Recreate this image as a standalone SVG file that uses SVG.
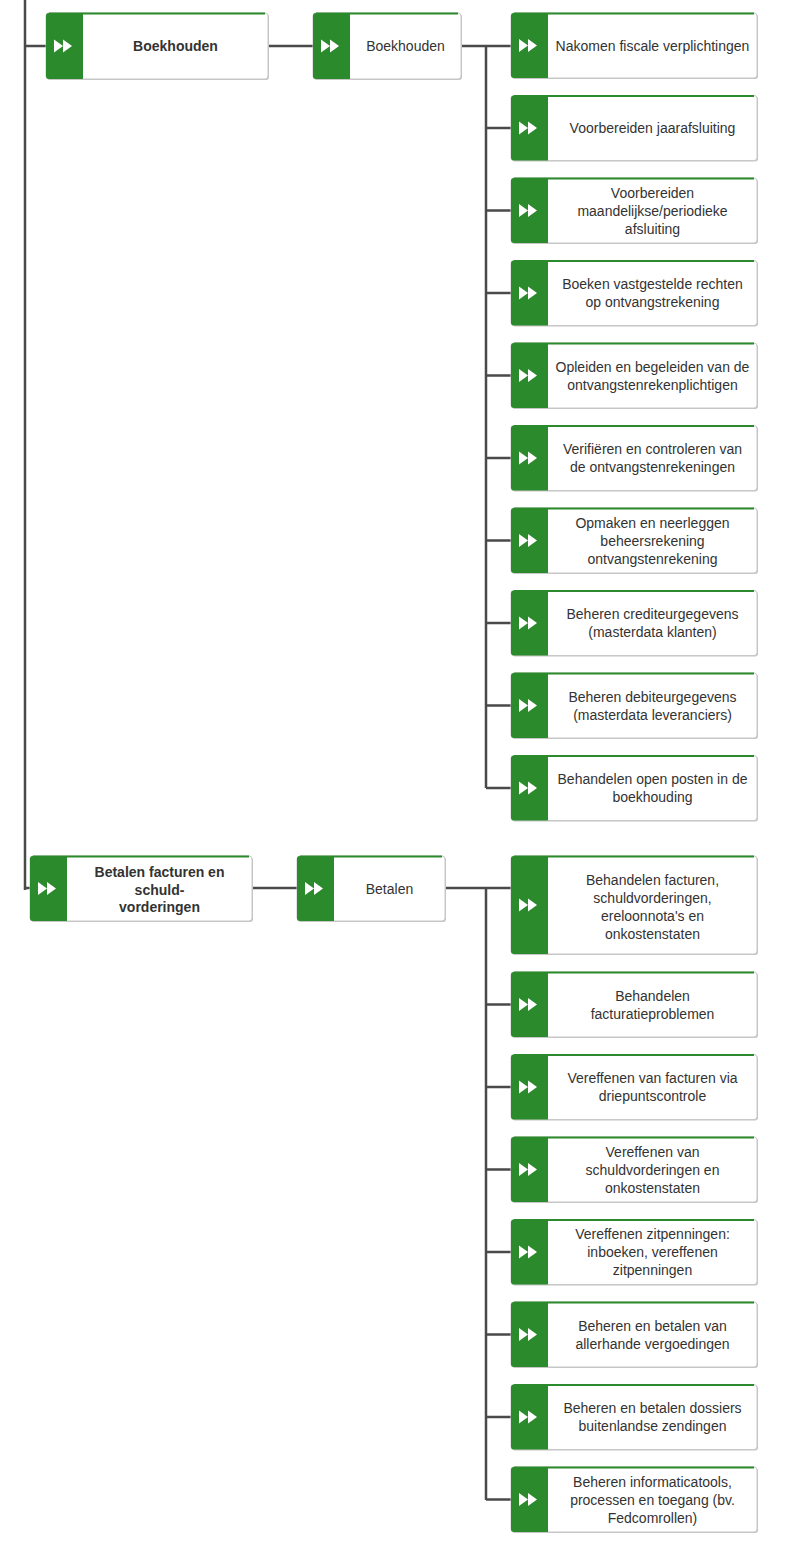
<svg xmlns="http://www.w3.org/2000/svg" xmlns:xlink="http://www.w3.org/1999/xlink" width="798" height="1558" viewBox="0 0 798 1558">
<style>
.shadow{fill:#c4c4c4}
.box{fill:#ffffff;stroke:#c8c8c8;stroke-width:1}
.bar{fill:#2b8a2b}
.top{stroke:#2b8a2b;stroke-width:2}
.ico{fill:#ffffff}
.t{font-family:"Liberation Sans",Arial,sans-serif;font-size:14px;fill:#333333;text-anchor:middle}
.b{font-weight:bold}
.conn{fill:none;stroke:#4a4a4a;stroke-width:2.5}
</style>
<defs>
<g id="ico"><polygon class="ico" points="8,-6.5 17,0 8,6.5"/><polygon class="ico" points="17,-6.5 26,0 17,6.5"/></g>
</defs>
<rect width="798" height="1558" fill="#ffffff"/>
<g id="connectors" class="conn">
<path d="M25 0V890M25 888H30M25 46H46M268 46H313M461 46H511M486 46V788"/>
<path d="M486 128H511M486 210.5H511M486 293H511M486 375.5H511M486 458H511M486 540.5H511M486 623H511M486 705.5H511M486 788H511"/>
<path d="M252 888H297M445 888H511M486 888V1500"/>
<path d="M486 1004.5H511M486 1087H511M486 1169.5H511M486 1252H511M486 1334.5H511M486 1417H511M486 1499.5H511"/>
</g>

<g id="n-l1-boekhouden" transform="translate(46,13)">
<rect class="shadow" x="1" y="1" width="222" height="66" rx="3"/><rect class="box" width="222" height="66" rx="3"/>
<path class="bar" d="M3 0H37V66H3Q0 66 0 63V3Q0 0 3 0Z"/><line class="top" x1="3" y1="0.5" x2="219" y2="0.5"/>
<use href="#ico" xlink:href="#ico" y="33"/>
<text class="t b" x="129.5" y="38">Boekhouden</text>
</g>
<g id="n-l2-boekhouden" transform="translate(313,13)">
<rect class="shadow" x="1" y="1" width="148" height="66" rx="3"/><rect class="box" width="148" height="66" rx="3"/>
<path class="bar" d="M3 0H37V66H3Q0 66 0 63V3Q0 0 3 0Z"/><line class="top" x1="3" y1="0.5" x2="145" y2="0.5"/>
<use href="#ico" xlink:href="#ico" y="33"/>
<text class="t" x="92.5" y="38">Boekhouden</text>
</g>

<g id="n-b1" transform="translate(511,13)">
<rect class="shadow" x="1" y="1" width="246" height="65" rx="3"/><rect class="box" width="246" height="65" rx="3"/>
<path class="bar" d="M3 0H37V65H3Q0 65 0 62V3Q0 0 3 0Z"/><line class="top" x1="3" y1="0.5" x2="243" y2="0.5"/>
<use href="#ico" xlink:href="#ico" y="32.5"/>
<text class="t" x="141.5" y="37.5">Nakomen fiscale verplichtingen</text>
</g>
<g id="n-b2" transform="translate(511,95.5)">
<rect class="shadow" x="1" y="1" width="246" height="65" rx="3"/><rect class="box" width="246" height="65" rx="3"/>
<path class="bar" d="M3 0H37V65H3Q0 65 0 62V3Q0 0 3 0Z"/><line class="top" x1="3" y1="0.5" x2="243" y2="0.5"/>
<use href="#ico" xlink:href="#ico" y="32.5"/>
<text class="t" x="141.5" y="37.5">Voorbereiden jaarafsluiting</text>
</g>
<g id="n-b3" transform="translate(511,178)">
<rect class="shadow" x="1" y="1" width="246" height="65" rx="3"/><rect class="box" width="246" height="65" rx="3"/>
<path class="bar" d="M3 0H37V65H3Q0 65 0 62V3Q0 0 3 0Z"/><line class="top" x1="3" y1="0.5" x2="243" y2="0.5"/>
<use href="#ico" xlink:href="#ico" y="32.5"/>
<text class="t" x="141.5" y="19.5">Voorbereiden</text>
<text class="t" x="141.5" y="37.5">maandelijkse/periodieke</text>
<text class="t" x="141.5" y="55.5">afsluiting</text>
</g>
<g id="n-b4" transform="translate(511,260.5)">
<rect class="shadow" x="1" y="1" width="246" height="65" rx="3"/><rect class="box" width="246" height="65" rx="3"/>
<path class="bar" d="M3 0H37V65H3Q0 65 0 62V3Q0 0 3 0Z"/><line class="top" x1="3" y1="0.5" x2="243" y2="0.5"/>
<use href="#ico" xlink:href="#ico" y="32.5"/>
<text class="t" x="141.5" y="28.5">Boeken vastgestelde rechten</text>
<text class="t" x="141.5" y="46.5">op ontvangstrekening</text>
</g>
<g id="n-b5" transform="translate(511,343)">
<rect class="shadow" x="1" y="1" width="246" height="65" rx="3"/><rect class="box" width="246" height="65" rx="3"/>
<path class="bar" d="M3 0H37V65H3Q0 65 0 62V3Q0 0 3 0Z"/><line class="top" x1="3" y1="0.5" x2="243" y2="0.5"/>
<use href="#ico" xlink:href="#ico" y="32.5"/>
<text class="t" x="141.5" y="28.5">Opleiden en begeleiden van de</text>
<text class="t" x="141.5" y="46.5">ontvangstenrekenplichtigen</text>
</g>
<g id="n-b6" transform="translate(511,425.5)">
<rect class="shadow" x="1" y="1" width="246" height="65" rx="3"/><rect class="box" width="246" height="65" rx="3"/>
<path class="bar" d="M3 0H37V65H3Q0 65 0 62V3Q0 0 3 0Z"/><line class="top" x1="3" y1="0.5" x2="243" y2="0.5"/>
<use href="#ico" xlink:href="#ico" y="32.5"/>
<text class="t" x="141.5" y="28.5">Verifiëren en controleren van</text>
<text class="t" x="141.5" y="46.5">de ontvangstenrekeningen</text>
</g>
<g id="n-b7" transform="translate(511,508)">
<rect class="shadow" x="1" y="1" width="246" height="65" rx="3"/><rect class="box" width="246" height="65" rx="3"/>
<path class="bar" d="M3 0H37V65H3Q0 65 0 62V3Q0 0 3 0Z"/><line class="top" x1="3" y1="0.5" x2="243" y2="0.5"/>
<use href="#ico" xlink:href="#ico" y="32.5"/>
<text class="t" x="141.5" y="19.5">Opmaken en neerleggen</text>
<text class="t" x="141.5" y="37.5">beheersrekening</text>
<text class="t" x="141.5" y="55.5">ontvangstenrekening</text>
</g>
<g id="n-b8" transform="translate(511,590.5)">
<rect class="shadow" x="1" y="1" width="246" height="65" rx="3"/><rect class="box" width="246" height="65" rx="3"/>
<path class="bar" d="M3 0H37V65H3Q0 65 0 62V3Q0 0 3 0Z"/><line class="top" x1="3" y1="0.5" x2="243" y2="0.5"/>
<use href="#ico" xlink:href="#ico" y="32.5"/>
<text class="t" x="141.5" y="28.5">Beheren crediteurgegevens</text>
<text class="t" x="141.5" y="46.5">(masterdata klanten)</text>
</g>
<g id="n-b9" transform="translate(511,673)">
<rect class="shadow" x="1" y="1" width="246" height="65" rx="3"/><rect class="box" width="246" height="65" rx="3"/>
<path class="bar" d="M3 0H37V65H3Q0 65 0 62V3Q0 0 3 0Z"/><line class="top" x1="3" y1="0.5" x2="243" y2="0.5"/>
<use href="#ico" xlink:href="#ico" y="32.5"/>
<text class="t" x="141.5" y="28.5">Beheren debiteurgegevens</text>
<text class="t" x="141.5" y="46.5">(masterdata leveranciers)</text>
</g>
<g id="n-b10" transform="translate(511,755.5)">
<rect class="shadow" x="1" y="1" width="246" height="65" rx="3"/><rect class="box" width="246" height="65" rx="3"/>
<path class="bar" d="M3 0H37V65H3Q0 65 0 62V3Q0 0 3 0Z"/><line class="top" x1="3" y1="0.5" x2="243" y2="0.5"/>
<use href="#ico" xlink:href="#ico" y="32.5"/>
<text class="t" x="141.5" y="28.5">Behandelen open posten in de</text>
<text class="t" x="141.5" y="46.5">boekhouding</text>
</g>

<g id="n-l1-betalen" transform="translate(30,856)">
<rect class="shadow" x="1" y="1" width="222" height="65" rx="3"/><rect class="box" width="222" height="65" rx="3"/>
<path class="bar" d="M3 0H37V65H3Q0 65 0 62V3Q0 0 3 0Z"/><line class="top" x1="3" y1="0.5" x2="219" y2="0.5"/>
<use href="#ico" xlink:href="#ico" y="32.5"/>
<text class="t b" x="129.5" y="20.5">Betalen facturen en</text>
<text class="t b" x="129.5" y="38.5">schuld-</text>
<text class="t b" x="129.5" y="55.5">vorderingen</text>
</g>
<g id="n-l2-betalen" transform="translate(297,856)">
<rect class="shadow" x="1" y="1" width="148" height="65" rx="3"/><rect class="box" width="148" height="65" rx="3"/>
<path class="bar" d="M3 0H37V65H3Q0 65 0 62V3Q0 0 3 0Z"/><line class="top" x1="3" y1="0.5" x2="145" y2="0.5"/>
<use href="#ico" xlink:href="#ico" y="32.5"/>
<text class="t" x="92.5" y="37.5">Betalen</text>
</g>

<g id="n-p1" transform="translate(511,856)">
<rect class="shadow" x="1" y="1" width="246" height="98" rx="3"/><rect class="box" width="246" height="98" rx="3"/>
<path class="bar" d="M3 0H37V98H3Q0 98 0 95V3Q0 0 3 0Z"/><line class="top" x1="3" y1="0.5" x2="243" y2="0.5"/>
<use href="#ico" xlink:href="#ico" y="49"/>
<text class="t" x="141.5" y="28.5">Behandelen facturen,</text>
<text class="t" x="141.5" y="46.5">schuldvorderingen,</text>
<text class="t" x="141.5" y="64.5">ereloonnota's en</text>
<text class="t" x="141.5" y="82.5">onkostenstaten</text>
</g>
<g id="n-p2" transform="translate(511,972)">
<rect class="shadow" x="1" y="1" width="246" height="65" rx="3"/><rect class="box" width="246" height="65" rx="3"/>
<path class="bar" d="M3 0H37V65H3Q0 65 0 62V3Q0 0 3 0Z"/><line class="top" x1="3" y1="0.5" x2="243" y2="0.5"/>
<use href="#ico" xlink:href="#ico" y="32.5"/>
<text class="t" x="141.5" y="28.5">Behandelen</text>
<text class="t" x="141.5" y="46.5">facturatieproblemen</text>
</g>
<g id="n-p3" transform="translate(511,1054.5)">
<rect class="shadow" x="1" y="1" width="246" height="65" rx="3"/><rect class="box" width="246" height="65" rx="3"/>
<path class="bar" d="M3 0H37V65H3Q0 65 0 62V3Q0 0 3 0Z"/><line class="top" x1="3" y1="0.5" x2="243" y2="0.5"/>
<use href="#ico" xlink:href="#ico" y="32.5"/>
<text class="t" x="141.5" y="28.5">Vereffenen van facturen via</text>
<text class="t" x="141.5" y="46.5">driepuntscontrole</text>
</g>
<g id="n-p4" transform="translate(511,1137)">
<rect class="shadow" x="1" y="1" width="246" height="65" rx="3"/><rect class="box" width="246" height="65" rx="3"/>
<path class="bar" d="M3 0H37V65H3Q0 65 0 62V3Q0 0 3 0Z"/><line class="top" x1="3" y1="0.5" x2="243" y2="0.5"/>
<use href="#ico" xlink:href="#ico" y="32.5"/>
<text class="t" x="141.5" y="19.5">Vereffenen van</text>
<text class="t" x="141.5" y="37.5">schuldvorderingen en</text>
<text class="t" x="141.5" y="55.5">onkostenstaten</text>
</g>
<g id="n-p5" transform="translate(511,1219.5)">
<rect class="shadow" x="1" y="1" width="246" height="65" rx="3"/><rect class="box" width="246" height="65" rx="3"/>
<path class="bar" d="M3 0H37V65H3Q0 65 0 62V3Q0 0 3 0Z"/><line class="top" x1="3" y1="0.5" x2="243" y2="0.5"/>
<use href="#ico" xlink:href="#ico" y="32.5"/>
<text class="t" x="141.5" y="19.5">Vereffenen zitpenningen:</text>
<text class="t" x="141.5" y="37.5">inboeken, vereffenen</text>
<text class="t" x="141.5" y="55.5">zitpenningen</text>
</g>
<g id="n-p6" transform="translate(511,1302)">
<rect class="shadow" x="1" y="1" width="246" height="65" rx="3"/><rect class="box" width="246" height="65" rx="3"/>
<path class="bar" d="M3 0H37V65H3Q0 65 0 62V3Q0 0 3 0Z"/><line class="top" x1="3" y1="0.5" x2="243" y2="0.5"/>
<use href="#ico" xlink:href="#ico" y="32.5"/>
<text class="t" x="141.5" y="28.5">Beheren en betalen van</text>
<text class="t" x="141.5" y="46.5">allerhande vergoedingen</text>
</g>
<g id="n-p7" transform="translate(511,1384.5)">
<rect class="shadow" x="1" y="1" width="246" height="65" rx="3"/><rect class="box" width="246" height="65" rx="3"/>
<path class="bar" d="M3 0H37V65H3Q0 65 0 62V3Q0 0 3 0Z"/><line class="top" x1="3" y1="0.5" x2="243" y2="0.5"/>
<use href="#ico" xlink:href="#ico" y="32.5"/>
<text class="t" x="141.5" y="28.5">Beheren en betalen dossiers</text>
<text class="t" x="141.5" y="46.5">buitenlandse zendingen</text>
</g>
<g id="n-p8" transform="translate(511,1467)">
<rect class="shadow" x="1" y="1" width="246" height="65" rx="3"/><rect class="box" width="246" height="65" rx="3"/>
<path class="bar" d="M3 0H37V65H3Q0 65 0 62V3Q0 0 3 0Z"/><line class="top" x1="3" y1="0.5" x2="243" y2="0.5"/>
<use href="#ico" xlink:href="#ico" y="32.5"/>
<text class="t" x="141.5" y="19.5">Beheren informaticatools,</text>
<text class="t" x="141.5" y="37.5">processen en toegang (bv.</text>
<text class="t" x="141.5" y="55.5">Fedcomrollen)</text>
</g>
</svg>
